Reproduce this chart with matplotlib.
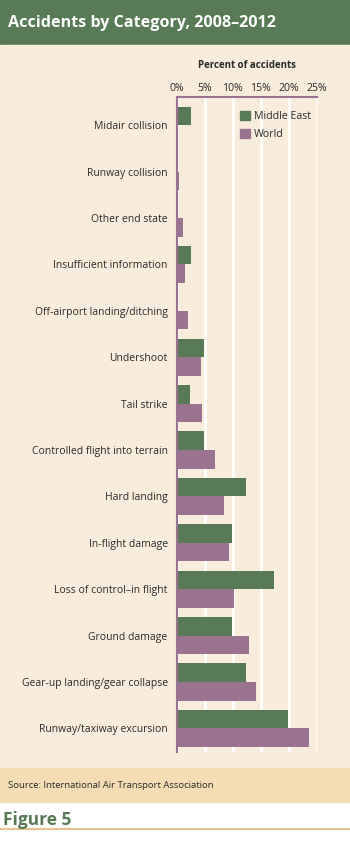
import numpy as np
import matplotlib.pyplot as plt
from matplotlib.patches import Rectangle, Patch
from matplotlib.lines import Line2D

# data (percent of accidents)
categories = ["Midair collision", "Runway collision", "Other end state",
              "Insufficient information", "Off-airport landing/ditching",
              "Undershoot", "Tail strike", "Controlled flight into terrain",
              "Hard landing", "In-flight damage", "Loss of control\u2013in flight",
              "Ground damage", "Gear-up landing/gear collapse",
              "Runway/taxiway excursion"]
middle_east = [2.5, 0.0, 0.0, 2.5, 0.0, 4.9, 2.4, 4.9, 12.4, 9.9, 17.4, 9.9, 12.4, 19.9]
world = [0.2, 0.5, 1.1, 1.5, 2.0, 4.3, 4.6, 6.9, 8.4, 9.4, 10.3, 13.0, 14.2, 23.7]
ticks = [0, 5, 10, 15, 20, 25]

GREEN = "#587a56"
MAUVE = "#9a7391"
CREAM = "#f8ecdc"
SAND = "#f4dcb4"
TEXT = "#2b2b2b"

plt.rcParams['font.family'] = ['Open Sans', 'DejaVu Sans']

W, H = 350, 841
fig = plt.figure(figsize=(W / 100, H / 100), dpi=100)
fig.patch.set_facecolor("white")


def band(y0, y1, color):
    # y in pixels from top
    fig.patches.append(Rectangle((0, 1 - y1 / H), 1, (y1 - y0) / H,
                                 transform=fig.transFigure, color=color, zorder=-1))


band(0, 45, GREEN)
band(45, 768, CREAM)
band(768, 802, SAND)
fig.lines.append(Line2D([0, 1], [1 - 829 / H] * 2, transform=fig.transFigure,
                        color="#e6c28d", lw=1.5))

fig.text(8 / W, 1 - 23 / H, "Accidents by Category, 2008\u20132012", color="white",
         fontsize=11.6, fontweight="bold", va="center", ha="left")
fig.text(8 / W, 1 - 785 / H, "Source: International Air Transport Association",
         color=TEXT, fontsize=6.8, va="center", ha="left")
fig.text(3 / W, 1 - 820 / H, "Figure 5", color=GREEN, fontsize=12.5,
         fontweight="bold", va="center", ha="left")
fig.text(247 / W, 1 - 65 / H, "Percent of accidents", color=TEXT, fontsize=7.0,
         fontweight="bold", va="center", ha="center")

ax = fig.add_axes([176.7 / W, 1 - 752 / H, 140 / W, 655 / H])
ax.set_zorder(2)
ax.set_facecolor(CREAM)

y = np.arange(len(categories))
ax.barh(y - 0.2, middle_east, height=0.4, color=GREEN, zorder=3)
ax.barh(y + 0.2, world, height=0.4, color=MAUVE, zorder=3)

ax.set_xlim(0, 25)
ax.set_ylim(13.51, -0.61)
ax.set_xticks(ticks)
ax.set_xticklabels([f"{t}%" for t in ticks])
ax.xaxis.tick_top()
ax.tick_params(axis="x", length=0, pad=2, labelsize=7.6, labelcolor=TEXT)
ax.set_yticks(y)
ax.set_yticklabels(categories)
ax.tick_params(axis="y", length=0, pad=6.5, labelsize=7.5, labelcolor=TEXT)
ax.grid(axis="x", color="white", lw=2, zorder=1)
ax.set_axisbelow(True)

for s in ["right", "bottom"]:
    ax.spines[s].set_visible(False)
for s in ["left", "top"]:
    ax.spines[s].set_color(MAUVE)
    ax.spines[s].set_linewidth(1.5)
    ax.spines[s].set_zorder(4)

handles = [Patch(color=GREEN, label="Middle East"), Patch(color=MAUVE, label="World")]
ax.legend(handles=handles, loc="upper left", bbox_to_anchor=(0.42, 0.985),
          frameon=False, fontsize=7.7, handlelength=0.95, handleheight=0.95,
          handletextpad=0.4, labelspacing=0.6, borderaxespad=0, labelcolor=TEXT)

fig.savefig("out.png", dpi=100)
